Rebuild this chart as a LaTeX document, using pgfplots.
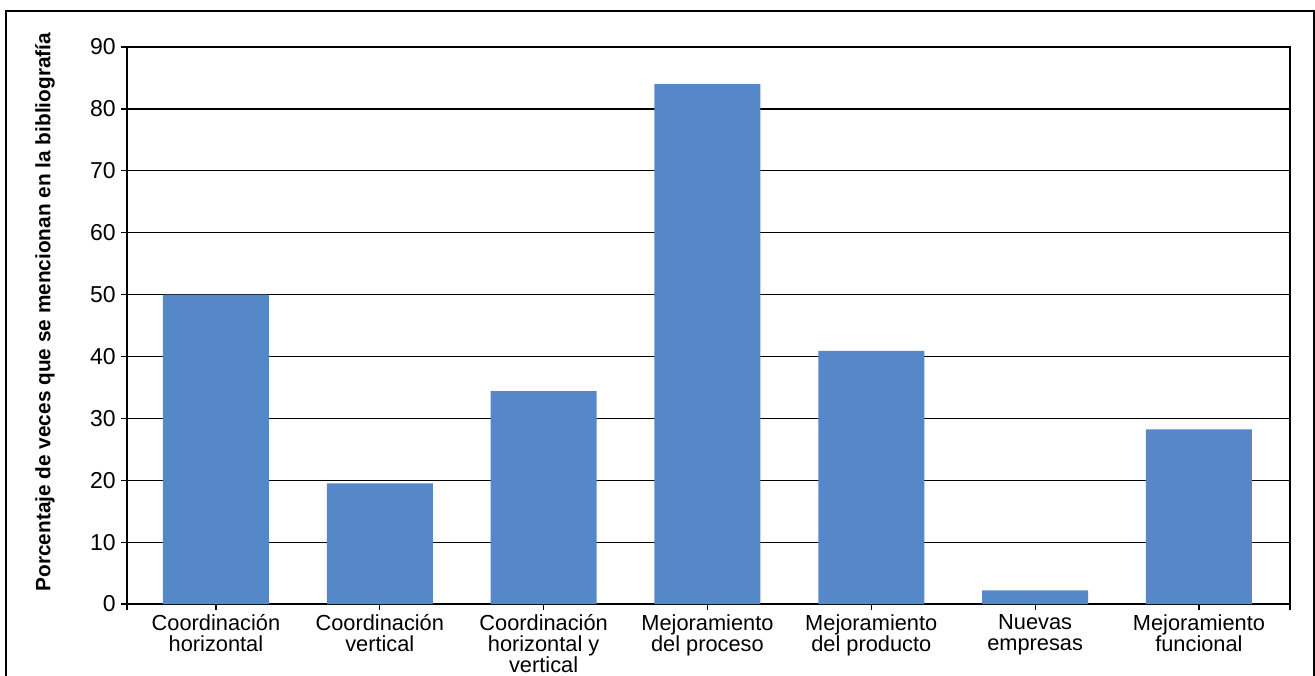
\documentclass[border=0pt]{standalone}
\usepackage{pgfplots}
\pgfplotsset{compat=1.18}
\usepackage{fontspec}
\setmainfont{Liberation Sans}
\definecolor{barblue}{RGB}{86,135,200}
\begin{document}
\begin{tikzpicture}
\useasboundingbox (-63.5pt,-35.5pt) rectangle (594pt,302pt);
\draw[line width=0.8pt] (-60.5pt,-40pt) -- (-60.5pt,296.5pt) -- (593.5pt,296.5pt) -- (593.5pt,-40pt);
\begin{axis}[
  at={(0,0)}, anchor=south west,
  scale only axis, width=581.5pt, height=278.5pt,
  xmin=-0.543, xmax=6.556, ymin=0, ymax=90,
  ytick={0,10,...,90},
  xtick={0,...,6},
  xticklabels={{Coordinación\\horizontal},{Coordinación\\vertical},{Coordinación\\horizontal y\\vertical},{Mejoramiento\\del proceso},{Mejoramiento\\del producto},{Nuevas\\empresas},{Mejoramiento\\funcional}},
  xticklabel style={align=center, font=\fontsize{10.9}{10.6}\selectfont, inner sep=2pt},
  yticklabel style={font=\fontsize{11.5}{12}\selectfont, inner sep=2.5pt},
  extra x ticks={-0.543,6.556}, extra x tick labels={}, extra x tick style={grid=none},
  ymajorgrids, grid style={black, line width=0.6pt},
  axis line style={black, line width=0.8pt},
  tick style={black, line width=0.6pt},
  tick align=outside, major tick length=3pt,
  xtick pos=lower, ytick pos=left,
  /pgf/number format/assume math mode=true,
  ylabel={Porcentaje de veces que se mencionan en la bibliografía},
  ylabel style={font=\bfseries\fontsize{10.4}{11}\selectfont, at={(axis description cs:-0.0705,0.524)}, anchor=center},
]
\addplot[ybar, bar width=53pt, fill=barblue, draw=none] coordinates {(0,50) (1,19.5) (2,34.4) (3,84) (4,40.9) (5,2.2) (6,28.2)};
\end{axis}
\end{tikzpicture}
\end{document}
